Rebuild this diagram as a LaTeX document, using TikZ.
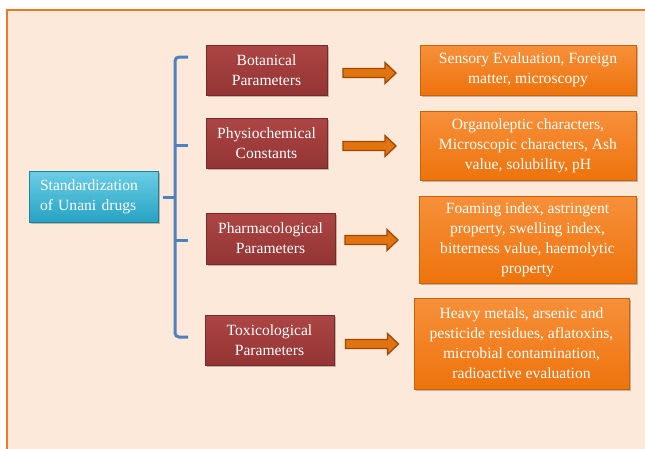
\documentclass[tikz,border=0pt]{standalone}
\usepackage{fontspec}
\setmainfont{Liberation Serif}
\usetikzlibrary{shadows}
\definecolor{peach}{HTML}{FDE9D9}
\definecolor{frameorange}{HTML}{E97A2A}
\definecolor{cyanA}{HTML}{6BCDE6}
\definecolor{cyanB}{HTML}{27A3C4}
\definecolor{redA}{HTML}{AC4644}
\definecolor{redB}{HTML}{933434}
\definecolor{orA}{HTML}{F7903A}
\definecolor{orB}{HTML}{EE730C}
\definecolor{arrowfill}{HTML}{E27410}
\definecolor{arrowedge}{HTML}{9E4808}
\definecolor{bracketblue}{HTML}{4F81BD}
\tikzset{
  basebox/.style={rectangle, inner sep=0pt, align=center, text=white,
    font=\fontsize{15.6}{20}\selectfont,
    drop shadow={shadow xshift=2pt, shadow yshift=-2pt, opacity=0.35, fill=black!70}},
  stdbox/.style={basebox, align=left, top color=cyanA, bottom color=cyanB, draw=cyanB!80!black, line width=0.4pt},
  redbox/.style={basebox, top color=redA, bottom color=redB, draw=redB!80!black, line width=0.4pt},
  orbox/.style={basebox, top color=orA, bottom color=orB, draw=orB!85!black, line width=0.4pt},
  arrowdraw/.style={draw=arrowedge, fill=arrowfill, line width=1.3pt, line join=miter},
  barrow/.pic={\path[arrowdraw] (0,-4.5) -- (42,-4.5) -- (42,-10.5) -- (53,0) -- (42,10.5) -- (42,4.5) -- (0,4.5) -- cycle;},
  bracketline/.style={draw=bracketblue, line width=3pt}
}
\begin{document}
\begin{tikzpicture}[x=1pt,y=-1pt]
\clip (0,0) rectangle (645,448);
\fill[white] (0,0) rectangle (645,448);
\draw[line width=2pt, draw=frameorange, fill=peach] (7,10) rectangle (670,470);

% left box
\node[stdbox, minimum width=129, minimum height=51, text width=107] (std) at (93.5,196.5)
  {Standardization\\of Unani drugs};

% bracket
\coordinate (bt) at (188,57);
\coordinate (bb) at (188,337);
\draw[bracketline, rounded corners=4pt] (bt) -- (175,57) -- (175,337) -- (bb);
\draw[bracketline] (175,145) -- (188,145);
\draw[bracketline] (175,240) -- (188,240);
\draw[bracketline] (163,197) -- (175,197);

% red boxes
\node[redbox, minimum width=121, minimum height=50] (bot) at (266.5,70) {Botanical\\Parameters};
\node[redbox, minimum width=121, minimum height=50] (phy) at (266.5,143) {Physiochemical\\Constants};
\node[redbox, minimum width=129, minimum height=51] (pha) at (270.5,238.5) {Pharmacological\\Parameters};
\node[redbox, minimum width=129, minimum height=50] (tox) at (269.5,340) {Toxicological\\Parameters};

% orange boxes
\node[orbox, minimum width=216, minimum height=50] (o1) at (528,70)
  {Sensory Evaluation, Foreign\\matter, microscopy};
\node[orbox, minimum width=216, minimum height=69] (o2) at (528,145.5)
  {Organoleptic characters,\\Microscopic characters, Ash\\value, solubility, pH};
\node[orbox, minimum width=217, minimum height=87] (o3) at (527.5,239.5)
  {Foaming index, astringent\\property, swelling index,\\bitterness value, haemolytic\\property};
\node[orbox, minimum width=215, minimum height=91] (o4) at (521.5,343.5)
  {Heavy metals, arsenic and\\pesticide residues, aflatoxins,\\microbial contamination,\\radioactive evaluation};

% block arrows
\pic at (343,73) {barrow};
\pic at (343,146) {barrow};
\pic at (345,240) {barrow};
\pic at (345.5,344) {barrow};
\end{tikzpicture}
\end{document}
